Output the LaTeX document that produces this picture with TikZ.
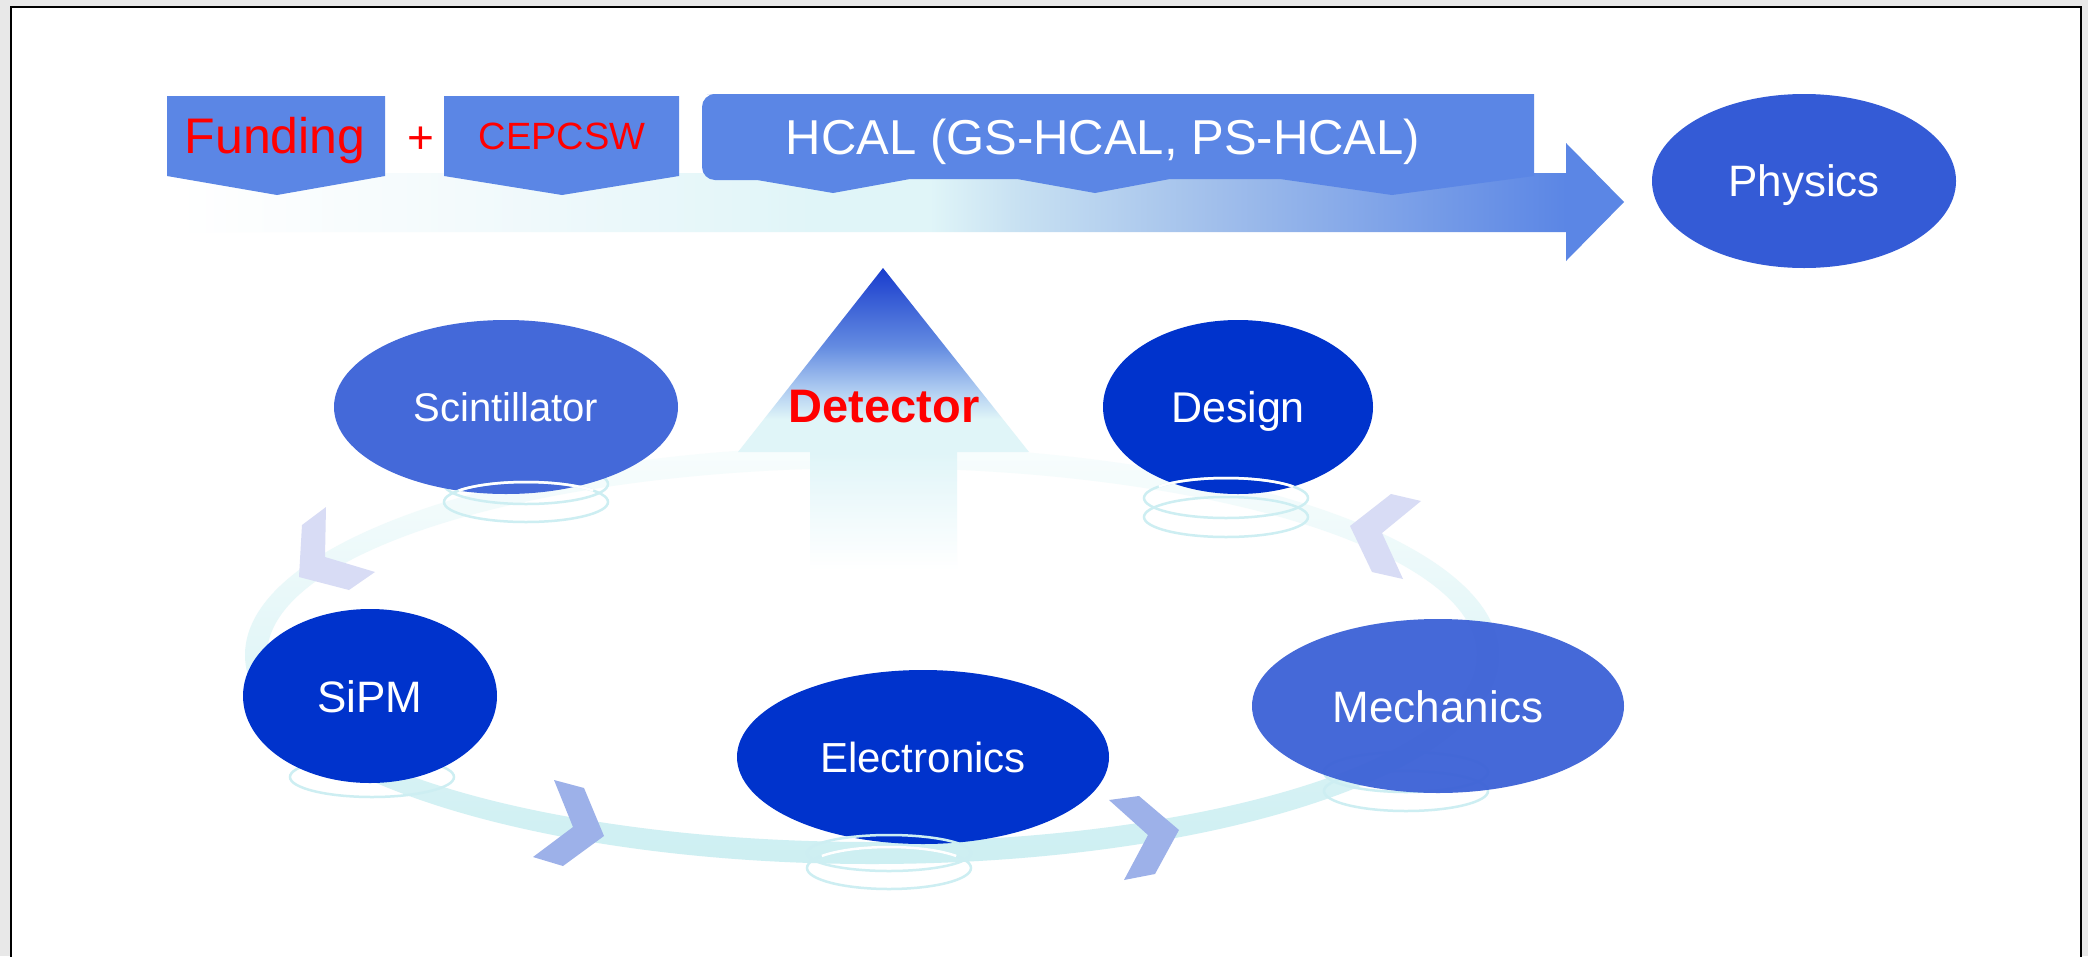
\documentclass[tikz,border=0pt]{standalone}
\usepackage{fontspec}
\setmainfont{Liberation Sans}
\usetikzlibrary{shapes.geometric}
\definecolor{boxblue}{RGB}{91,134,229}
\definecolor{physblue}{RGB}{52,91,214}
\definecolor{midblue}{RGB}{68,105,217}
\definecolor{mechblue}{RGB}{60,97,214}
\definecolor{deepblue}{RGB}{0,51,204}
\definecolor{cyanlt}{RGB}{224,245,248}
\definecolor{bandA}{RGB}{243,250,252}
\definecolor{bandB}{RGB}{200,225,242}
\definecolor{bandC}{RGB}{160,190,235}
\definecolor{detA}{RGB}{25,60,205}
\definecolor{detB}{RGB}{100,140,225}
\definecolor{detC}{RGB}{170,200,240}
\definecolor{ringbot}{RGB}{205,239,242}
\definecolor{ringmid}{RGB}{228,247,249}
\definecolor{ringtop}{RGB}{248,253,253}
\definecolor{chevlt}{RGB}{216,220,245}
\definecolor{chevdk}{RGB}{157,177,233}
\definecolor{ringline}{RGB}{205,238,242}
\definecolor{framegray}{RGB}{232,232,232}
\definecolor{myred}{RGB}{255,0,0}
\pgfdeclarehorizontalshading{bandshade}{100bp}{color(0bp)=(white); color(25bp)=(white); color(35bp)=(bandA); color(47bp)=(cyanlt); color(51bp)=(cyanlt); color(54bp)=(bandB); color(61bp)=(bandC); color(73bp)=(boxblue); color(100bp)=(boxblue)}
\pgfdeclareverticalshading{detshade}{100bp}{color(0bp)=(white); color(25bp)=(white); color(44.5bp)=(cyanlt); color(50bp)=(cyanlt); color(55.3bp)=(detC); color(62bp)=(detB); color(75bp)=(detA); color(100bp)=(detA)}
\begin{document}
\begin{tikzpicture}[x=1pt,y=-1pt,
  ellnode/.style={ellipse, inner sep=0pt, outer sep=0pt, text=white, text depth=0pt},
  ringstyle/.style={draw=ringline, line width=2.5pt},
  ringwhite/.style={draw=white, line width=2.5pt},
  topbox/.style={fill=boxblue},
  chevlight/.style={fill=chevlt},
  chevdark/.style={fill=chevdk}]
\useasboundingbox (0,0) rectangle (2088,956);
% frame
\fill[framegray] (0,0) rectangle (2088,956);
\fill[white] (11,7) rectangle (2081,975);
\draw[black, line width=1.5pt] (11,7) rectangle (2081,975);

% cycle track
\shade[even odd rule, top color=ringtop, middle color=ringmid, bottom color=ringbot]
  (872,655) ellipse [x radius=627, y radius=209]
  (872,655) ellipse [x radius=605, y radius=187];

% big horizontal arrow
\shade[shading=bandshade] (177,173) -- (1566,173) -- (1566,143) -- (1624,202) -- (1566,261) -- (1566,232) -- (177,232) -- cycle;

% detector arrow
\shade[shading=detshade] (883,268) -- (1029,452) -- (957,452) -- (957,570) -- (810,570) -- (810,452) -- (738,452) -- cycle;
\node[anchor=base, text=myred, font=\bfseries\fontsize{47pt}{56pt}\selectfont, inner sep=0pt] (detector) at (884,422) {Detector};

% top boxes
\fill[topbox] (167,96) -- (385,96) -- (385,176) -- (277,195) -- (167,176) -- cycle;
\fill[topbox] (444,96) -- (679,96) -- (679,176) -- (562,195) -- (444,176) -- cycle;
\fill[topbox] (1100,94) -- (1534,94) -- (1534,176) -- (1392,195) -- (1280,179) -- (1170,179) -- (1095,193) -- (1017,179) -- (910,179) -- (833,193) -- (757,180) -- (720,180) [rounded corners=13pt] -- (702,180) -- (702,94) -- (720,94) [sharp corners] -- cycle;
\node[anchor=base, text=myred, font=\fontsize{50pt}{60pt}\selectfont, inner sep=0pt] (funding) at (275,153) {Funding};
\node[anchor=base, text=myred, font=\fontsize{46pt}{56pt}\selectfont, inner sep=0pt] (plus) at (421,153) {+};
\node[anchor=base, text=myred, font=\fontsize{38pt}{46pt}\selectfont, inner sep=0pt] (cepcsw) at (562,149) {CEPCSW};
\node[anchor=base, text=white, font=\fontsize{49pt}{58pt}\selectfont, inner sep=0pt] (hcal) at (1103,154) {HCAL (GS-HCAL, PS-HCAL)};

% chevrons on the track
\fill[chevlight] (326,507) -- (302,525) -- (299,577) -- (349,590) -- (375,572) -- (325,557) -- cycle;
\fill[chevlight] (1391,494) -- (1421,501) -- (1382,533) -- (1403,579) -- (1372,572) -- (1350,526) -- cycle;
\fill[chevdark] (554,780) -- (584,788) -- (604,836) -- (563,866) -- (533,857) -- (573,827) -- cycle;
\fill[chevdark] (1109,800) -- (1139,796) -- (1179,830) -- (1155,874) -- (1124,880) -- (1148,835) -- cycle;

% rings behind ellipses
\draw[ringstyle] (372,777) ellipse [x radius=82, y radius=20];
\draw[ringstyle] (526,484) ellipse [x radius=82, y radius=20];
\draw[ringstyle] (1406,772) ellipse [x radius=82, y radius=20];
\draw[ringstyle] (1406,791) ellipse [x radius=82, y radius=20];

% ellipses
\node[ellnode, fill=physblue, minimum width=304pt, minimum height=174pt, text height=31pt, font=\fontsize{44pt}{52pt}\selectfont] (physics) at (1804,181) {Physics};
\node[ellnode, fill=midblue, minimum width=344pt, minimum height=174pt, text height=28pt, font=\fontsize{40pt}{48pt}\selectfont] (scint) at (506,407) {Scintillator};
\node[ellnode, fill=deepblue, minimum width=270pt, minimum height=174pt, text height=31pt, font=\fontsize{43pt}{52pt}\selectfont] (design) at (1238,407) {Design};
\node[ellnode, fill=deepblue, minimum width=254pt, minimum height=174pt, text height=32pt, font=\fontsize{44pt}{52pt}\selectfont] (sipm) at (370,696) {SiPM};
\node[ellnode, fill=deepblue, minimum width=372pt, minimum height=174pt, text height=30pt, font=\fontsize{42pt}{50pt}\selectfont] (electronics) at (923,757) {Electronics};
\node[ellnode, fill=mechblue, fill opacity=0.95, text opacity=1, minimum width=372pt, minimum height=174pt, text height=32pt, font=\fontsize{44pt}{52pt}\selectfont] (mechanics) at (1438,706) {Mechanics};

% rings in front
\draw[ringstyle] (526,502) ellipse [x radius=82, y radius=20];
\draw[ringwhite] (526,502) ++(215:82 and 20) arc [start angle=215, end angle=325, x radius=82, y radius=20];
\draw[ringstyle] (1226,498) ellipse [x radius=82, y radius=20];
\draw[ringwhite] (1226,498) ++(215:82 and 20) arc [start angle=215, end angle=325, x radius=82, y radius=20];
\draw[ringstyle] (1226,517) ellipse [x radius=82, y radius=20];
\draw[ringstyle] (889,853) ellipse [x radius=82, y radius=18];
\draw[ringstyle] (889,868) ellipse [x radius=82, y radius=21];
\draw[ringwhite] (889,868) ++(215:82 and 21) arc [start angle=215, end angle=325, x radius=82, y radius=21];
\end{tikzpicture}
\end{document}
